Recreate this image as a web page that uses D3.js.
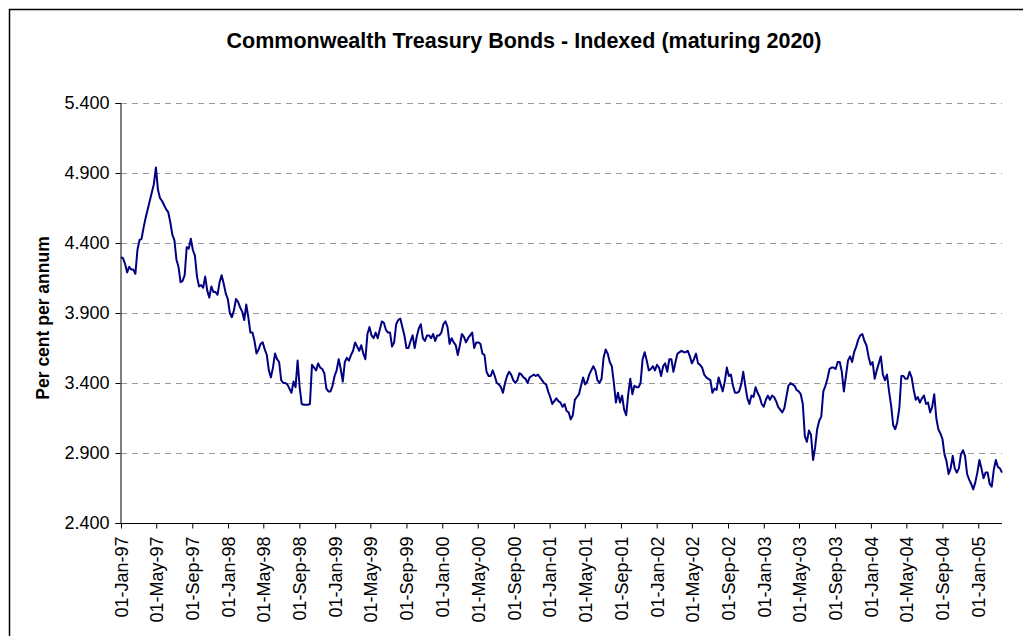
<!DOCTYPE html>
<html>
<head>
<meta charset="utf-8">
<script src="https://cdn.jsdelivr.net/npm/d3@7"></script>
<style>
  body { margin: 0; background: #fff; }
  text { font-family: "Liberation Sans", Arial, sans-serif; }
</style>
</head>
<body>
<div id="chart"></div>
<script>
// Weekly readings of the 2020 indexed bond yield, first week starting 01-Jan-97
const firstWeek = "1997-01-01"
const weeklyYield = [
  4.30, 4.29, 4.25, 4.19, 4.23, 4.21, 4.21, 4.18, 4.35, 4.42,
  4.43, 4.51, 4.58, 4.64, 4.70, 4.76, 4.82, 4.94, 4.78, 4.72,
  4.70, 4.67, 4.64, 4.62, 4.55, 4.46, 4.42, 4.28, 4.23, 4.12,
  4.13, 4.17, 4.37, 4.36, 4.43, 4.35, 4.31, 4.16, 4.09, 4.10,
  4.08, 4.16, 4.06, 4.01, 4.09, 4.05, 4.05, 4.03, 4.12, 4.17,
  4.11, 4.04, 4.00, 3.90, 3.87, 3.92, 4.00, 3.98, 3.94, 3.91,
  3.85, 3.96, 3.87, 3.76, 3.76, 3.70, 3.61, 3.64, 3.68, 3.69,
  3.64, 3.60, 3.49, 3.44, 3.51, 3.61, 3.57, 3.55, 3.42, 3.40,
  3.40, 3.39, 3.36, 3.33, 3.41, 3.37, 3.56, 3.37, 3.25, 3.245,
  3.245, 3.245, 3.25, 3.53, 3.51, 3.49, 3.54, 3.51, 3.50, 3.47,
  3.36, 3.34, 3.34, 3.38, 3.45, 3.49, 3.57, 3.50, 3.41, 3.55,
  3.58, 3.56, 3.60, 3.63, 3.69, 3.66, 3.63, 3.67, 3.61, 3.57,
  3.75, 3.80, 3.74, 3.72, 3.76, 3.72, 3.78, 3.84, 3.83, 3.78,
  3.76, 3.76, 3.66, 3.69, 3.82, 3.85, 3.86, 3.80, 3.74, 3.65,
  3.65, 3.70, 3.74, 3.65, 3.73, 3.79, 3.82, 3.72, 3.70, 3.74,
  3.74, 3.72, 3.75, 3.70, 3.74, 3.74, 3.76, 3.82, 3.84, 3.80,
  3.68, 3.72, 3.69, 3.67, 3.60, 3.67, 3.75, 3.73, 3.69, 3.72,
  3.74, 3.76, 3.65, 3.69, 3.69, 3.68, 3.61, 3.60, 3.48, 3.45,
  3.45, 3.49, 3.45, 3.40, 3.39, 3.37, 3.33, 3.40, 3.45, 3.48,
  3.46, 3.42, 3.40, 3.42, 3.47, 3.46, 3.44, 3.43, 3.40, 3.44,
  3.45, 3.46, 3.45, 3.46, 3.44, 3.42, 3.40, 3.39, 3.34, 3.30,
  3.25, 3.27, 3.29, 3.27, 3.26, 3.23, 3.25, 3.20, 3.19, 3.14,
  3.17, 3.28, 3.30, 3.32, 3.38, 3.44, 3.39, 3.41, 3.46, 3.49,
  3.52, 3.49, 3.42, 3.40, 3.43, 3.58, 3.64, 3.61, 3.55, 3.52,
  3.40, 3.26, 3.33, 3.26, 3.31, 3.21, 3.17, 3.32, 3.43, 3.32,
  3.38, 3.37, 3.37, 3.40, 3.57, 3.62, 3.56, 3.49, 3.50, 3.52,
  3.49, 3.53, 3.51, 3.45, 3.52, 3.54, 3.48, 3.57, 3.57, 3.48,
  3.55, 3.61, 3.62, 3.63, 3.62, 3.62, 3.63, 3.59, 3.54, 3.57,
  3.61, 3.54, 3.53, 3.51, 3.46, 3.44, 3.43, 3.42, 3.33, 3.36,
  3.35, 3.44, 3.39, 3.34, 3.41, 3.51, 3.45, 3.46, 3.38, 3.33,
  3.33, 3.34, 3.39, 3.48, 3.38, 3.29, 3.25, 3.31, 3.30, 3.37,
  3.33, 3.30, 3.25, 3.23, 3.28, 3.31, 3.28, 3.31, 3.30, 3.27,
  3.23, 3.21, 3.19, 3.22, 3.30, 3.38, 3.40, 3.39, 3.38, 3.35,
  3.34, 3.32, 3.25, 3.02, 2.98, 3.06, 3.03, 2.85, 2.94, 3.07,
  3.13, 3.16, 3.34, 3.38, 3.43, 3.50, 3.51, 3.51, 3.50, 3.55,
  3.55, 3.48, 3.34, 3.45, 3.56, 3.59, 3.55, 3.62, 3.66, 3.71,
  3.74, 3.75, 3.70, 3.67, 3.59, 3.53, 3.55, 3.43, 3.49, 3.54,
  3.59, 3.46, 3.42, 3.46, 3.34, 3.24, 3.10, 3.07, 3.12, 3.22,
  3.45, 3.45, 3.43, 3.43, 3.48, 3.44, 3.35, 3.28, 3.30, 3.26,
  3.29, 3.31, 3.25, 3.26, 3.19, 3.23, 3.32, 3.15, 3.07, 3.04,
  3.00, 2.89, 2.84, 2.75, 2.79, 2.88, 2.79, 2.76, 2.79, 2.89,
  2.92, 2.88, 2.75, 2.71, 2.68, 2.64, 2.69, 2.76, 2.85, 2.79,
  2.72, 2.76, 2.76, 2.68, 2.66, 2.78, 2.85, 2.80, 2.79, 2.76
]
const yTicks = [2.4, 2.9, 3.4, 3.9, 4.4, 4.9, 5.4]
const xTickMonths = [
  "1997-01", "1997-05", "1997-09", "1998-01", "1998-05", "1998-09",
  "1999-01", "1999-05", "1999-09", "2000-01", "2000-05", "2000-09",
  "2001-01", "2001-05", "2001-09", "2002-01", "2002-05", "2002-09",
  "2003-01", "2003-05", "2003-09", "2004-01", "2004-05", "2004-09",
  "2005-01"
]
const chartTitle = "Commonwealth Treasury Bonds - Indexed (maturing 2020)"
const yTitle = "Per cent per annum"

const width = 1023
const height = 636
const margin = {top: 103, right: 21, bottom: 113, left: 121}

const parseDay = d3.timeParse("%Y-%m-%d")
const parseMonth = d3.timeParse("%Y-%m")
const start = parseDay(firstWeek)
const data = weeklyYield.map((v, i) => ({date: d3.timeDay.offset(start, i * 7), value: v}))
const xTicks = xTickMonths.map(parseMonth)

const x = d3.scaleTime()
  .domain(d3.extent(data, d => d.date))
  .range([margin.left, width - margin.right])
const y = d3.scaleLinear()
  .domain([2.4, 5.4])
  .range([height - margin.bottom, margin.top])

const svg = d3.select("#chart").append("svg")
  .attr("width", width)
  .attr("height", height)

svg.append("rect")
  .attr("x", 9.5)
  .attr("y", 9.5)
  .attr("width", width + 20)
  .attr("height", height + 20)
  .attr("fill", "#fff")
  .attr("stroke", "#000")
  .attr("stroke-width", 1.5)

svg.append("text")
  .attr("x", 524)
  .attr("y", 48)
  .attr("text-anchor", "middle")
  .attr("font-size", 21.5)
  .attr("font-weight", "bold")
  .text(chartTitle)

// dashed gridlines (not at the baseline)
svg.append("g")
  .selectAll("line")
  .data(yTicks.slice(1))
  .join("line")
    .attr("x1", margin.left)
    .attr("x2", width - margin.right)
    .attr("y1", d => Math.round(y(d)) + 0.5)
    .attr("y2", d => Math.round(y(d)) + 0.5)
    .attr("stroke", "#9a9a9a")
    .attr("stroke-width", 1)
    .attr("stroke-dasharray", "6,5")

const yAxis = svg.append("g")
  .attr("transform", `translate(${margin.left - 0.5},0)`)
  .call(d3.axisLeft(y).tickValues(yTicks).tickFormat(d3.format(".3f")).tickSize(5).tickPadding(6))
yAxis.selectAll("text").attr("font-size", 18).attr("fill", "#000").attr("font-family", null)
yAxis.selectAll("line, path").attr("stroke", "#000")

const xAxis = svg.append("g")
  .attr("transform", `translate(0,${height - margin.bottom + 0.5})`)
  .call(d3.axisBottom(x).tickValues(xTicks).tickFormat(d3.timeFormat("%d-%b-%y")).tickSize(5).tickSizeOuter(0))
xAxis.select(".domain").attr("d", `M${margin.left - 0.5},0H${width - margin.right}`)
xAxis.selectAll("line, path").attr("stroke", "#000")
xAxis.selectAll("text")
  .attr("font-size", 18)
  .attr("font-family", null)
  .attr("fill", "#000")
  .attr("text-anchor", "end")
  .attr("transform", "rotate(-90)")
  .attr("x", -13)
  .attr("y", 0)
  .attr("dy", "0.35em")

svg.append("text")
  .attr("transform", `translate(49,${(margin.top + height - margin.bottom) / 2 + 5}) rotate(-90)`)
  .attr("text-anchor", "middle")
  .attr("font-size", 17.5)
  .attr("font-weight", "bold")
  .text(yTitle)

const line = d3.line()
  .x(d => x(d.date))
  .y(d => y(d.value))

svg.append("path")
  .datum(data)
  .attr("fill", "none")
  .attr("stroke", "#000080")
  .attr("stroke-width", 2)
  .attr("stroke-linejoin", "round")
  .attr("d", line)
</script>
</body>
</html>
